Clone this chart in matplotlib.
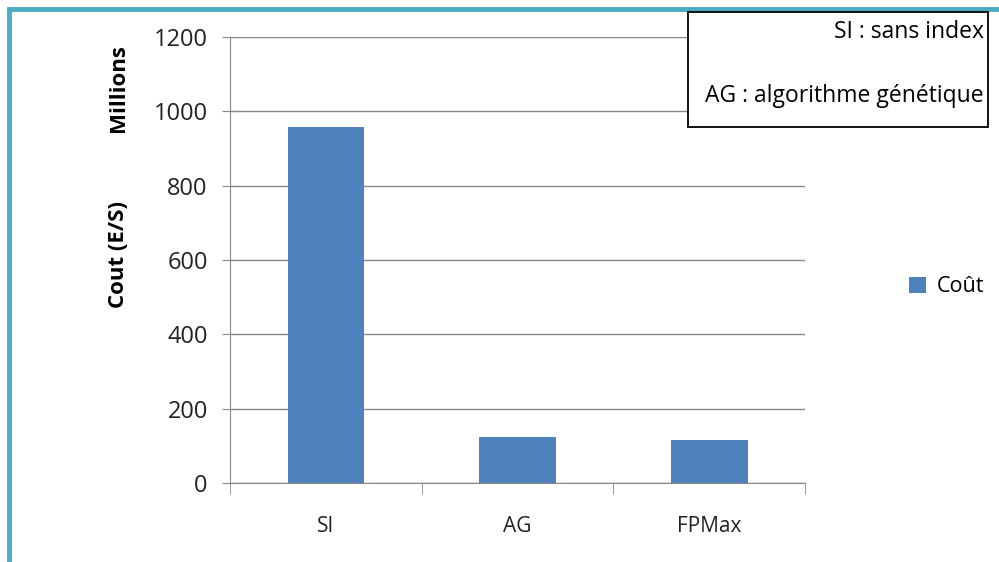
import matplotlib.pyplot as plt
import numpy as np
from matplotlib.patches import Rectangle

categories = ['SI', 'AG', 'FPMax']
cout = [958, 123, 117]
series_name = 'Coût'
notes = ['SI : sans index', 'AG : algorithme génétique']

plt.rcParams['font.family'] = ['Open Sans', 'DejaVu Sans']

W, H = 999, 562
fig = plt.figure(figsize=(W / 100, H / 100), dpi=100)
fig.patch.set_facecolor('white')

# outer frame (top and left edges visible)
frame = Rectangle((9 / W, -0.1), 1.2, 1 - 9 / H + 0.1, transform=fig.transFigure,
                  fill=False, edgecolor='#4bacc6', lw=3.5)
fig.add_artist(frame)

ax = fig.add_axes([230 / W, 1 - 483 / H, (805 - 230) / W, (483 - 37) / H])
x = np.arange(len(categories))
ax.bar(x, cout, width=0.4, color='#4f81bd', label=series_name, zorder=3)

ax.set_xlim(-0.5, len(categories) - 0.5)
ax.set_ylim(0, 1200)
ax.set_yticks(range(0, 1201, 200))
ax.set_xticks(x)
ax.set_xticklabels(categories)
ax.set_xticks(np.arange(-0.5, len(categories), 1), minor=True)
ax.tick_params(axis='x', which='major', length=0, pad=24, labelsize=15, colors='#222222')
ax.tick_params(axis='x', which='minor', length=8, direction='out', color='#888888')
ax.tick_params(axis='y', length=12, direction='inout', color='#888888', labelsize=17,
               labelcolor='#222222', pad=10)
ax.grid(axis='y', color='#888888', lw=1, zorder=0)
for side in ['top', 'right']:
    ax.spines[side].set_visible(False)
ax.spines['left'].set_color('#888888')
ax.spines['bottom'].set_color('#888888')

fig.text(118 / W, 1 - 254 / H, 'Cout (E/S)', rotation=90, ha='center', va='center',
         fontsize=16, fontweight='bold')
fig.text(118 / W, 1 - 88 / H, 'Millions', rotation=90, ha='center', va='center',
         fontsize=16, fontweight='bold')

ax.legend(loc='center left', bbox_to_anchor=(890 / W, 1 - 287 / H),
          bbox_transform=fig.transFigure, frameon=False, fontsize=15.5,
          handlelength=0.75, handleheight=0.75, handletextpad=0.5)

# notes box
box = Rectangle((688 / W, 1 - 127 / H), 300 / W, 115 / H, transform=fig.transFigure,
                fill=True, facecolor='white', edgecolor='black', lw=1.3, zorder=5)
fig.add_artist(box)
fig.text(984 / W, 1 - 32 / H, notes[0], ha='right', va='center', fontsize=16.5, zorder=6)
fig.text(984 / W, 1 - 96 / H, notes[1], ha='right', va='center', fontsize=16.5, zorder=6)

fig.savefig('out.png', dpi=100)
